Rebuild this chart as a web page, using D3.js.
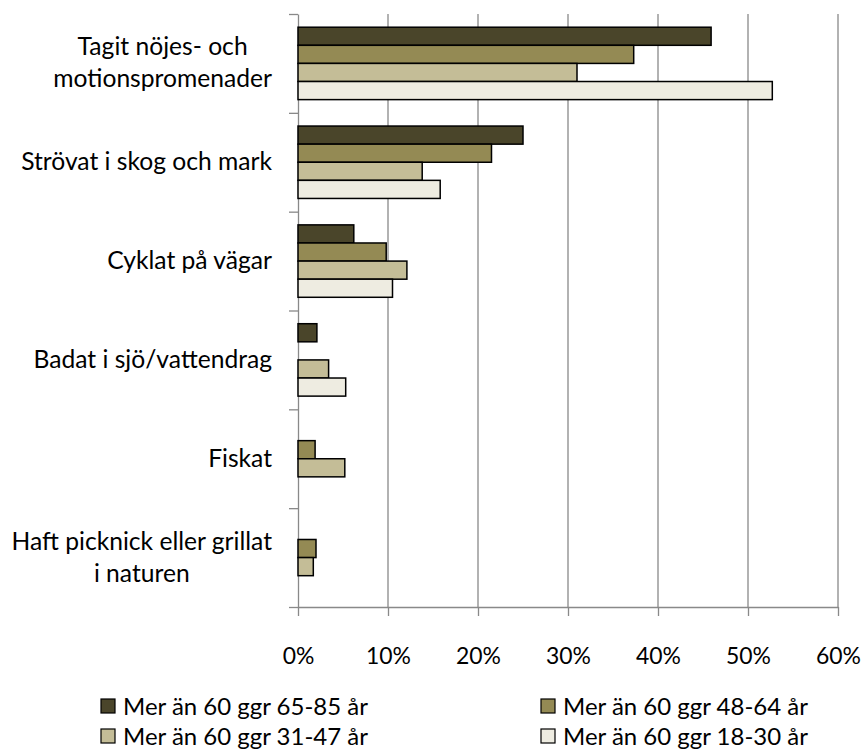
<!DOCTYPE html>
<html lang="sv">
<head>
    <meta charset="UTF-8">
    <title>Friluftsaktiviteter</title>
    <script src="https://d3js.org/d3.v7.min.js"></script>
    <style>
        body { margin: 0; background: #fff; }
        text { font-family: Lato, "Open Sans", sans-serif; fill: #000; }
    </style>
</head>
<body>

<svg id="chart" width="863" height="749"></svg>
<script>

    // data (percent)
    const categories = [
        "Tagit nöjes- och\nmotionspromenader",
        "Strövat i skog och mark",
        "Cyklat på vägar",
        "Badat i sjö/vattendrag",
        "Fiskat",
        "Haft picknick eller grillat\ni naturen"
    ];
    const seriesNames = [
        "Mer än 60 ggr 65-85 år",
        "Mer än 60 ggr 48-64 år",
        "Mer än 60 ggr 31-47 år",
        "Mer än 60 ggr 18-30 år"
    ];
    const age65_85 = [45.9, 25.0, 6.2, 2.1, 0, 0];
    const age48_64 = [37.3, 21.5, 9.8, 0, 1.9, 2.0];
    const age31_47 = [31.0, 13.8, 12.1, 3.4, 5.2, 1.7];
    const age18_30 = [52.7, 15.8, 10.5, 5.3, 0, 0];
    const xTicks = [0, 10, 20, 30, 40, 50, 60];

    const seriesValues = [age65_85, age48_64, age31_47, age18_30];
    const colors = ["#4a452a", "#948a54", "#c4bd97", "#eeece1"];

    window.onload = function () {

        const svg = d3.select("#chart");

        // pick font sizes so text widths come close to the original (Calibri)
        const fitSize = (str, width) => {
            const probe = svg.append("text").style("font-size", "100px").text(str);
            const s = width / probe.node().getComputedTextLength() * 100;
            probe.remove();
            return s;
        };
        const labelSize = fitSize("Strövat i skog och mark", 251);
        const tickSize = fitSize("60%", 45);
        const legendSize = fitSize("Mer än 60 ggr 65-85 år", 245);

        const x = d3.scaleLinear().domain([0, 60]).range([298, 838]);
        const y = d3.scaleBand().domain(categories).range([14, 607]);
        const ySub = d3.scaleBand().domain(seriesNames).range([0, y.bandwidth()]).paddingOuter(0.73);
        const color = d3.scaleOrdinal().domain(seriesNames).range(colors);

        // vertical gridlines
        svg.append("g")
            .selectAll("line")
            .data(xTicks.slice(1))
            .enter()
            .append("line")
            .attr("x1", d => x(d))
            .attr("x2", d => x(d))
            .attr("y1", 14)
            .attr("y2", 607)
            .attr("stroke", "#898989")
            .attr("stroke-width", 1.3);

        // bottom axis
        const xAxis = svg.append("g")
            .attr("transform", "translate(0,607)")
            .call(d3.axisBottom(x).tickValues(xTicks).tickFormat(d => d + "%").tickSize(9).tickSizeOuter(0));
        xAxis.select(".domain").attr("stroke", "#898989").attr("stroke-width", 1.3);
        xAxis.selectAll(".tick line").attr("stroke", "#898989").attr("stroke-width", 1.3);
        xAxis.selectAll(".tick text")
            .attr("y", 57)
            .attr("dy", 0)
            .style("font-size", tickSize + "px")
            .style("font-family", "Lato, sans-serif")
            .attr("fill", "#000");

        // left axis, ticks between categories
        const yIdx = d3.scaleLinear().domain([0, categories.length]).range([14, 607]);
        const yAxis = svg.append("g")
            .attr("transform", "translate(298,0)")
            .call(d3.axisLeft(yIdx).ticks(categories.length).tickFormat("").tickSize(9).tickSizeOuter(0));
        yAxis.select(".domain").attr("stroke", "#898989").attr("stroke-width", 1.3);
        yAxis.selectAll(".tick line").attr("stroke", "#898989").attr("stroke-width", 1.3);

        // bars
        const groups = svg.append("g")
            .selectAll("g")
            .data(categories)
            .enter()
            .append("g")
            .attr("transform", d => "translate(0," + y(d) + ")");

        groups.selectAll("rect")
            .data((d, i) => seriesNames.map((s, j) => ({series: s, value: seriesValues[j][i]})).filter(b => b.value > 0))
            .enter()
            .append("rect")
            .attr("x", x(0))
            .attr("y", d => ySub(d.series))
            .attr("width", d => x(d.value) - x(0))
            .attr("height", ySub.bandwidth())
            .attr("fill", d => color(d.series))
            .attr("stroke", "#000")
            .attr("stroke-width", 1.5);

        // category labels: block right aligned, lines centered
        const lineH = 32;
        categories.forEach(c => {
            const lines = c.split("\n");
            const cy = y(c) + y.bandwidth() / 2;
            const t = svg.append("text")
                .attr("text-anchor", "middle")
                .style("font-size", labelSize + "px");
            lines.forEach((l, k) => {
                t.append("tspan")
                    .attr("y", cy + 8 + (k - (lines.length - 1) / 2) * lineH)
                    .text(l);
            });
            let maxW = 0;
            t.selectAll("tspan").each(function () {
                maxW = Math.max(maxW, this.getComputedTextLength());
            });
            t.selectAll("tspan").attr("x", 272 - maxW / 2);
        });

        // legend
        const legend = svg.append("g")
            .selectAll("g")
            .data(seriesNames)
            .enter()
            .append("g")
            .attr("transform", (d, i) => "translate(" + (i % 2 === 0 ? 101 : 541) + "," + (699 + Math.floor(i / 2) * 30) + ")");

        legend.append("rect")
            .attr("width", 14)
            .attr("height", 14)
            .attr("fill", d => color(d))
            .attr("stroke", "#000")
            .attr("stroke-width", 1.2);

        legend.append("text")
            .attr("x", 22)
            .attr("y", 16)
            .style("font-size", legendSize + "px")
            .text(d => d);
    }

</script>

</body>
</html>
